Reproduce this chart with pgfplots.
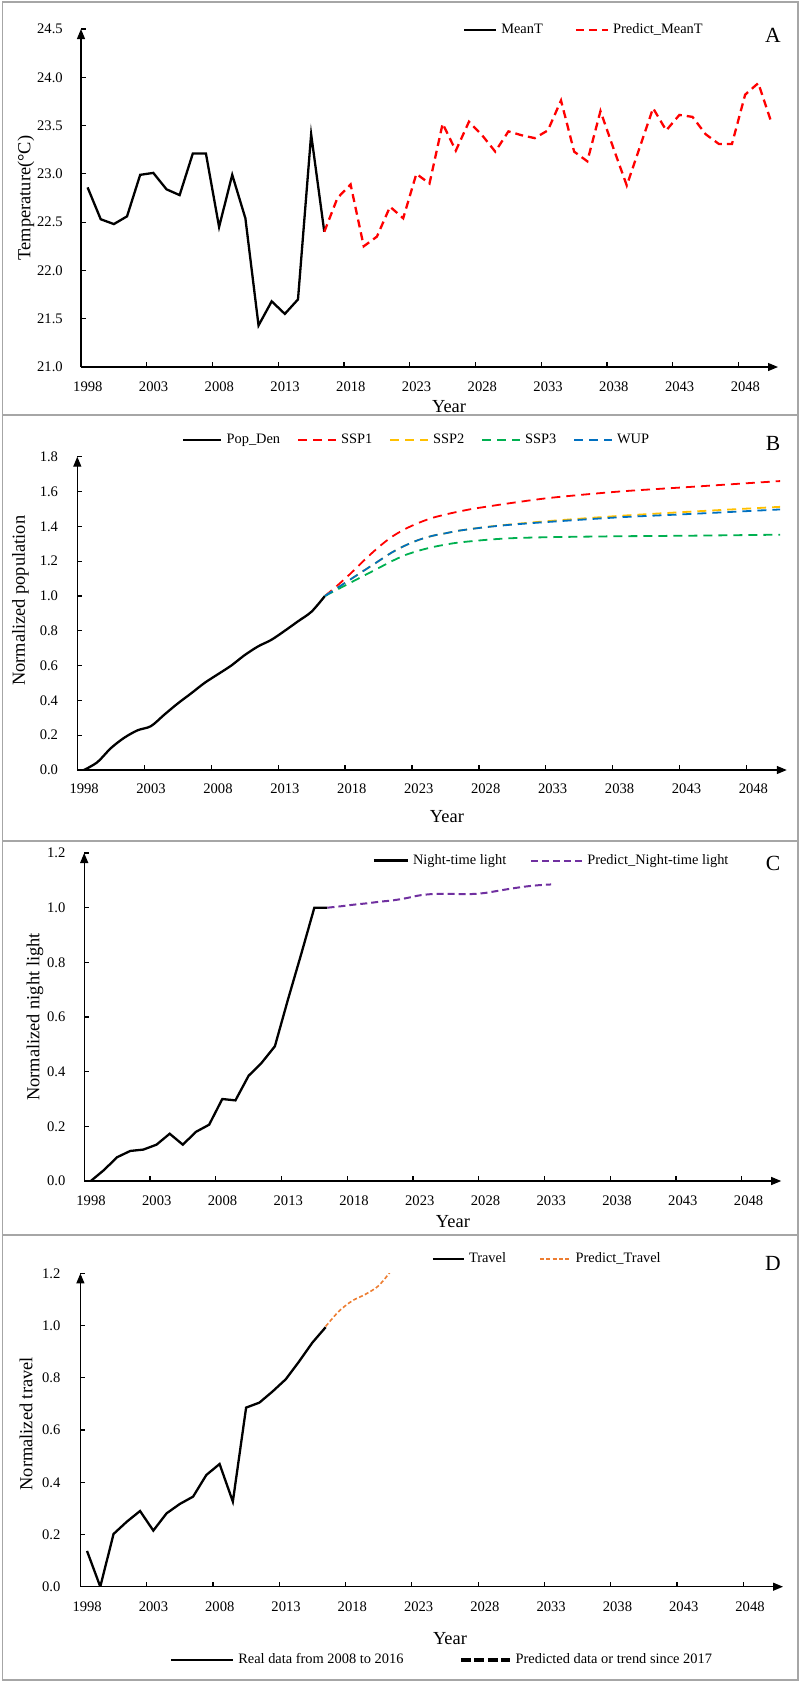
\documentclass[border=0pt]{standalone}
\usepackage{fontspec}
\setmainfont{Liberation Serif}
\usepackage{pgfplots}
\pgfplotsset{compat=1.18}
\usetikzlibrary{arrows.meta}

\definecolor{sspyellow}{HTML}{FFC000}
\definecolor{sspgreen}{HTML}{00B050}
\definecolor{sspblue}{HTML}{0070C0}
\definecolor{nlpurple}{HTML}{7030A0}
\definecolor{travorange}{HTML}{ED7D31}
\definecolor{framegray}{HTML}{A6A6A6}

\pgfplotsset{
  leglen/.style={legend image code/.code={\draw[##1] (0pt,0pt) -- (#1,0pt);}},
  panel/.style={
    scale only axis,
    axis lines=left,
    axis line style={line width=0.6pt,-{Triangle[length=5pt,width=4pt]}},
    xmin=1997.5, xmax=2050.5,
    xtick={1997.5,2002.5,...,2047.5},
    xticklabels={1998,2003,2008,2013,2018,2023,2028,2033,2038,2043,2048},
    tick align=inside,
    major tick length=2.5pt,
    tick style={line width=0.6pt, black},
    tick label style={font=\fontsize{7.3}{8}\selectfont},
    y tick label style={/pgf/number format/.cd, fixed, fixed zerofill, precision=1, assume math mode=true, /tikz/.cd},
    label style={font=\fontsize{9.2}{10}\selectfont},
    legend style={draw=none, fill=none, inner sep=0pt, outer sep=0pt,
      font=\fontsize{7.2}{8}\selectfont, legend columns=-1, anchor=west},
    ylabel style={anchor=center},
    xlabel style={anchor=center},
  },
  real/.style={black, line width=1.15pt},
}

\begin{document}
\begin{tikzpicture}
\useasboundingbox (0,0) rectangle (400pt,-840.5pt);

% frames
\draw[framegray, line width=0.8pt] (1.2pt,-1pt) rectangle (399pt,-840pt);
\draw[framegray, line width=0.8pt] (1.2pt,-207.5pt) -- (399pt,-207.5pt);
\draw[framegray, line width=0.8pt] (1.2pt,-420.5pt) -- (399pt,-420.5pt);
\draw[framegray, line width=0.8pt] (1.2pt,-617.5pt) -- (399pt,-617.5pt);

% ---------- A: temperature
\begin{axis}[panel, at={(40.5pt,-183.5pt)}, anchor=south west,
  width=348.5pt, height=169pt,
  ymin=21, ymax=24.5, ytick={21,21.5,...,24.5},
  xticklabel style={xshift=3.4pt, yshift=-4pt},
  yticklabel style={xshift=-5.6pt},
  ylabel={Temperature(°C)}, xlabel={Year},
  ylabel style={at={(axis description cs:-0.079,0.5)}},
  xlabel style={at={(axis description cs:0.528,-0.118)}},
  legend style={at={(axis description cs:0.548,0.997)},
    /tikz/every even column/.append style={column sep=14pt}},
  leglen=16pt,
]
\addplot[real] coordinates {
(1998,22.86) (1999,22.53) (2000,22.48) (2001,22.56) (2002,22.99) (2003,23.01)
(2004,22.84) (2005,22.78) (2006,23.21) (2007,23.21) (2008,22.45) (2009,22.99)
(2010,22.54) (2011,21.43) (2012,21.68) (2013,21.55) (2014,21.70) (2015,23.41)
(2016,22.40)};
\addlegendentry{MeanT}
\addplot[red, line width=1.15pt, dash pattern=on 4pt off 2.5pt] coordinates {
(2016,22.40) (2017,22.75) (2018,22.89) (2019,22.25) (2020,22.35) (2021,22.66)
(2022,22.54) (2023,23.00) (2024,22.90) (2025,23.52) (2026,23.24) (2027,23.54)
(2028,23.40) (2029,23.23) (2030,23.44) (2031,23.40) (2032,23.37) (2033,23.45)
(2034,23.76) (2035,23.23) (2036,23.13) (2037,23.65) (2038,23.26) (2039,22.88)
(2040,23.28) (2041,23.68) (2042,23.45) (2043,23.61) (2044,23.59) (2045,23.41)
(2046,23.31) (2047,23.31) (2048,23.82) (2049,23.94) (2050,23.53)};
\addlegendentry{Predict\_MeanT}
\end{axis}
\node[font=\fontsize{10.8}{12}\selectfont] at (386.5pt,-17.5pt) {A};

% ---------- B: population
\begin{axis}[panel, at={(38.65pt,-385pt)}, anchor=south west,
  width=354.75pt, height=156.65pt,
  ymin=0, ymax=1.8, ytick={0,0.2,...,1.8},
  xticklabel style={xshift=3.4pt, yshift=-3.5pt},
  yticklabel style={xshift=-6.1pt},
  ylabel={Normalized population}, xlabel={Year},
  ylabel style={at={(axis description cs:-0.080,0.54)}},
  xlabel style={at={(axis description cs:0.521,-0.150)}},
  legend style={at={(axis description cs:0.148,1.053)},
    /tikz/every even column/.append style={column sep=6.5pt}},
  leglen=19pt,
]
\addplot[real, smooth] coordinates {
(1998,0) (1999,0.045) (2000,0.125) (2001,0.185) (2002,0.228) (2003,0.252)
(2004,0.318) (2005,0.382) (2006,0.44) (2007,0.50) (2008,0.55) (2009,0.60)
(2010,0.66) (2011,0.71) (2012,0.748) (2013,0.80) (2014,0.855) (2015,0.91)
(2016,1.0)};
\addlegendentry{Pop\_Den}
\addplot[red, line width=0.9pt, dash pattern=on 4.5pt off 3pt, smooth] coordinates {
(2016,1.0) (2017,1.065) (2018,1.135) (2019,1.21) (2020,1.28) (2021,1.34)
(2022,1.385) (2023,1.42) (2024,1.448) (2025,1.468) (2026,1.485) (2027,1.50)
(2028,1.512) (2030,1.535) (2033,1.565) (2038,1.60) (2043,1.625) (2050,1.66)};
\addlegendentry{SSP1}
\addplot[sspyellow, line width=0.9pt, dash pattern=on 4.5pt off 3pt, smooth] coordinates {
(2016,1.0) (2017,1.05) (2018,1.10) (2019,1.15) (2020,1.20) (2021,1.25)
(2022,1.29) (2023,1.322) (2024,1.345) (2025,1.36) (2026,1.375) (2028,1.396)
(2030,1.412) (2033,1.432) (2038,1.46) (2043,1.483) (2050,1.512)};
\addlegendentry{SSP2}
\addplot[sspgreen, line width=0.9pt, dash pattern=on 4.5pt off 3pt, smooth] coordinates {
(2016,1.0) (2017,1.04) (2018,1.08) (2019,1.12) (2020,1.16) (2021,1.20)
(2022,1.235) (2023,1.26) (2024,1.28) (2025,1.295) (2026,1.307) (2028,1.322)
(2030,1.332) (2033,1.338) (2038,1.343) (2043,1.346) (2050,1.352)};
\addlegendentry{SSP3}
\addplot[sspblue, line width=0.9pt, dash pattern=on 4.5pt off 3pt, smooth] coordinates {
(2016,1.0) (2017,1.05) (2018,1.10) (2019,1.15) (2020,1.20) (2021,1.25)
(2022,1.29) (2023,1.322) (2024,1.345) (2025,1.36) (2026,1.375) (2028,1.395)
(2030,1.41) (2033,1.427) (2038,1.452) (2043,1.47) (2050,1.497)};
\addlegendentry{WUP}
\end{axis}
\node[font=\fontsize{10.8}{12}\selectfont] at (386.5pt,-221.5pt) {B};

% ---------- C: night light
\begin{axis}[panel, at={(42.1pt,-590.5pt)}, anchor=south west,
  width=348.5pt, height=164pt,
  ymin=0, ymax=1.2, ytick={0,0.2,...,1.2},
  xticklabel style={xshift=3.4pt, yshift=-3.75pt},
  yticklabel style={xshift=-5.85pt},
  ylabel={Normalized night light}, xlabel={Year},
  ylabel style={at={(axis description cs:-0.0707,0.5)}},
  xlabel style={at={(axis description cs:0.529,-0.124)}},
  legend style={at={(axis description cs:0.414,0.977)},
    /tikz/every even column/.append style={column sep=10pt}},
]
\addplot[real, leglen=17pt] coordinates {
(1998,0) (1999,0.04) (2000,0.087) (2001,0.11) (2002,0.115) (2003,0.133)
(2004,0.173) (2005,0.133) (2006,0.18) (2007,0.206) (2008,0.30) (2009,0.295)
(2010,0.385) (2011,0.433) (2012,0.493) (2013,0.665) (2014,0.83) (2015,1.0)
(2016,1.0)};
\addlegendentry{Night-time light}
\addplot[nlpurple, line width=1pt, dash pattern=on 3.5pt off 2pt, smooth, leglen=25.5pt] coordinates {
(2016,1.0) (2017,1.005) (2018,1.011) (2019,1.016) (2020,1.022) (2021,1.027)
(2022,1.035) (2023,1.045) (2024,1.05) (2025,1.051) (2026,1.05) (2027,1.05)
(2028,1.054) (2029,1.062) (2030,1.07) (2031,1.077) (2032,1.082) (2033,1.085)};
\addlegendentry{Predict\_Night-time light}
\end{axis}
\node[font=\fontsize{10.8}{12}\selectfont] at (386.5pt,-431.5pt) {C};

% ---------- D: travel
\begin{axis}[panel, at={(40.2pt,-793.35pt)}, anchor=south west,
  width=351.3pt, height=156.65pt,
  ymin=0, ymax=1.2, ytick={0,0.2,...,1.2},
  xticklabel style={xshift=3.4pt, yshift=-4.25pt},
  yticklabel style={xshift=-6.45pt},
  ylabel={Normalized travel}, xlabel={Year},
  ylabel style={at={(axis description cs:-0.0774,0.52)}},
  xlabel style={at={(axis description cs:0.526,-0.167)}},
  legend style={at={(axis description cs:0.5,1.046)},
    /tikz/every even column/.append style={column sep=14.5pt}},
  leglen=15.5pt,
]
\addplot[real] coordinates {
(1998,0.137) (1999,0) (2000,0.202) (2001,0.249) (2002,0.29) (2003,0.215)
(2004,0.281) (2005,0.317) (2006,0.345) (2007,0.428) (2008,0.47) (2009,0.326)
(2010,0.686) (2011,0.705) (2012,0.748) (2013,0.795) (2014,0.863) (2015,0.935)
(2016,0.994)};
\addlegendentry{Travel}
\addplot[travorange, line width=0.8pt, dash pattern=on 2pt off 1.2pt, smooth] coordinates {
(2016,0.997) (2017,1.055) (2018,1.095) (2019,1.12) (2020,1.153) (2021,1.214)};
\addlegendentry{Predict\_Travel}
\end{axis}
\node[font=\fontsize{10.8}{12}\selectfont] at (386.5pt,-631.5pt) {D};

% ---------- shared key at the bottom
\begin{axis}[hide axis, scale only axis, at={(40.2pt,-793.35pt)}, anchor=south west,
  width=351.3pt, height=156.65pt, xmin=0, xmax=1, ymin=0, ymax=1,
  legend style={draw=none, fill=none, inner sep=0pt, outer sep=0pt,
    font=\fontsize{7.2}{8}\selectfont, legend columns=-1, anchor=west,
    at={(axis description cs:0.1275,-0.234)},
    /tikz/every even column/.append style={column sep=26pt}},
]
\addlegendimage{black, line width=1.15pt, leglen=31pt}
\addlegendentry{Real data from 2008 to 2016}
\addlegendimage{black, line width=1.6pt, dash pattern=on 5pt off 1.7pt, leglen=24.5pt}
\addlegendentry{Predicted data or trend since 2017}
\end{axis}
\end{tikzpicture}
\end{document}
